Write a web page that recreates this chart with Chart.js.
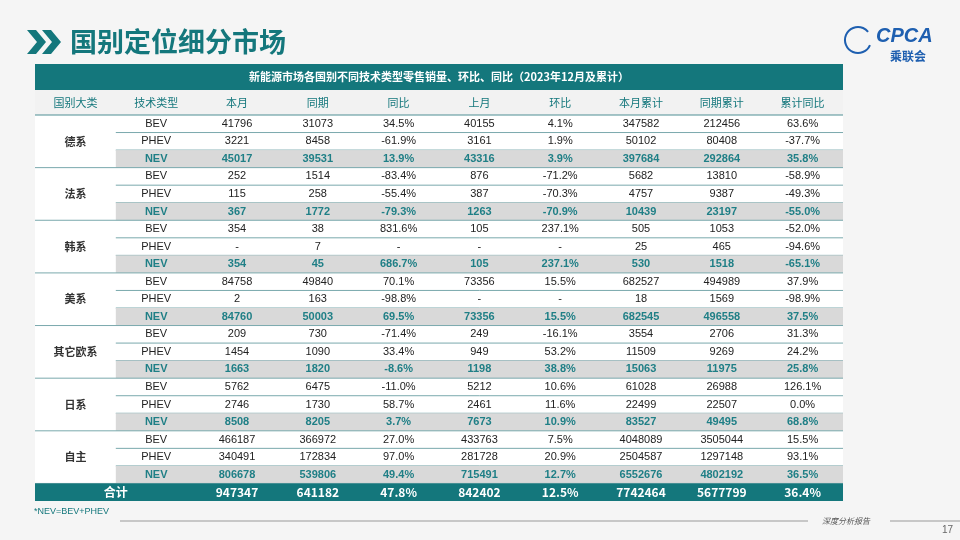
<!DOCTYPE html>
<html><head><meta charset="utf-8">
<script src="https://cdn.jsdelivr.net/npm/chart.js@4/dist/chart.umd.min.js"></script>
<style>html,body{margin:0;background:#f5f5f5}canvas{display:block}</style>
</head><body>
<div style="width:960px;height:540px"><canvas id="c"></canvas></div>
<script>
const headers = ['国别大类', '技术类型', '本月', '同期', '同比', '上月', '环比', '本月累计', '同期累计', '累计同比'];
const groups = ['德系', '法系', '韩系', '美系', '其它欧系', '日系', '自主'];
const techTypes = ['BEV', 'PHEV', 'NEV'];
const thisMonth = ['41796','3221','45017','252','115','367','354','-','354','84758','2','84760','209','1454','1663','5762','2746','8508','466187','340491','806678'];
const sameMonth = ['31073','8458','39531','1514','258','1772','38','7','45','49840','163','50003','730','1090','1820','6475','1730','8205','366972','172834','539806'];
const yoy = ['34.5%','-61.9%','13.9%','-83.4%','-55.4%','-79.3%','831.6%','-','686.7%','70.1%','-98.8%','69.5%','-71.4%','33.4%','-8.6%','-11.0%','58.7%','3.7%','27.0%','97.0%','49.4%'];
const lastMonth = ['40155','3161','43316','876','387','1263','105','-','105','73356','-','73356','249','949','1198','5212','2461','7673','433763','281728','715491'];
const mom = ['4.1%','1.9%','3.9%','-71.2%','-70.3%','-70.9%','237.1%','-','237.1%','15.5%','-','15.5%','-16.1%','53.2%','38.8%','10.6%','11.6%','10.9%','7.5%','20.9%','12.7%'];
const ytd = ['347582','50102','397684','5682','4757','10439','505','25','530','682527','18','682545','3554','11509','15063','61028','22499','83527','4048089','2504587','6552676'];
const ytdLast = ['212456','80408','292864','13810','9387','23197','1053','465','1518','494989','1569','496558','2706','9269','11975','26988','22507','49495','3505044','1297148','4802192'];
const ytdYoy = ['63.6%','-37.7%','35.8%','-58.9%','-49.3%','-55.0%','-52.0%','-94.6%','-65.1%','37.9%','-98.9%','37.5%','31.3%','24.2%','25.8%','126.1%','0.0%','68.8%','15.5%','93.1%','36.5%'];
const total = ['合计', '', '947347', '641182', '47.8%', '842402', '12.5%', '7742464', '5677799', '36.4%'];

const TEAL = '#14777c';
const rowLabels = [];
groups.forEach(g => techTypes.forEach(t => rowLabels.push(g + '-' + t)));
rowLabels.push('合计');
const valueCols = [thisMonth, sameMonth, yoy, lastMonth, mom, ytd, ytdLast, ytdYoy];

const tablePlugin = {
  id: 'table',
  beforeDraw(chart) {
    const {ctx, chartArea: a, scales: {x, y}} = chart;
    const rowH = y.getPixelForValue(1) - y.getPixelForValue(0);
    const colW = x.getPixelForValue(1) - x.getPixelForValue(0);
    ctx.save();
    // page title
    ctx.fillStyle = TEAL;
    [27, 42].forEach(px => {
      ctx.beginPath(); ctx.moveTo(px, 30); ctx.lineTo(px + 9, 30); ctx.lineTo(px + 19, 42);
      ctx.lineTo(px + 9, 54); ctx.lineTo(px, 54); ctx.lineTo(px + 10, 42); ctx.closePath(); ctx.fill();
    });
    ctx.font = 'bold 27px "Noto Sans CJK SC"'; ctx.textBaseline = 'middle'; ctx.textAlign = 'left';
    ctx.fillText('国别定位细分市场', 70, 42);
    // logo
    ctx.fillStyle = '#1e5fb0'; ctx.font = 'italic bold 20px "Liberation Sans"';
    ctx.fillText('CPCA', 876, 36);
    ctx.font = 'bold 12px "Noto Sans CJK SC"'; ctx.fillText('乘联会', 890, 56);
    ctx.strokeStyle = '#1e5fb0'; ctx.lineWidth = 2;
    ctx.beginPath(); ctx.arc(858, 40, 13, 0.4, 5.6); ctx.stroke();
    // table body
    const top = a.top - 51;
    ctx.fillStyle = '#ffffff'; ctx.fillRect(a.left, top, a.width, a.bottom - top);
    ctx.fillStyle = TEAL; ctx.fillRect(a.left, top, a.width, 26);
    ctx.fillStyle = '#ffffff'; ctx.textAlign = 'center'; ctx.font = 'bold 11px "Noto Sans CJK SC"';
    ctx.fillText('新能源市场各国别不同技术类型零售销量、环比、同比（2023年12月及累计）', (a.left + a.right) / 2, top + 13);
    ctx.fillStyle = '#f2f2f2'; ctx.fillRect(a.left, top + 26, a.width, 25);
    ctx.fillStyle = TEAL; ctx.font = '11px "Noto Sans CJK SC"';
    headers.forEach((h, i) => ctx.fillText(h, x.getPixelForValue(i), top + 39));
    ctx.strokeStyle = '#4f8f94'; ctx.lineWidth = 1;
    ctx.beginPath(); ctx.moveTo(a.left, a.top); ctx.lineTo(a.right, a.top); ctx.stroke();
    const secondLeft = x.getPixelForValue(1) - colW / 2;
    rowLabels.forEach((lab, r) => {
      const cy = y.getPixelForValue(r);
      const y0 = cy - rowH / 2;
      if (r === rowLabels.length - 1) {
        ctx.fillStyle = TEAL; ctx.fillRect(a.left, y0, a.width, rowH);
        ctx.fillStyle = '#ffffff'; ctx.font = 'bold 12px "Liberation Sans Narrow", "Noto Sans CJK SC"';
        total.forEach((t, i) => {
          if (!t) return;
          const cx = i === 0 ? (x.getPixelForValue(0) + x.getPixelForValue(1)) / 2 : x.getPixelForValue(i);
          ctx.fillText(t, cx, cy);
        });
        return;
      }
      const t = r % 3;
      const isNev = t === 2;
      if (isNev) { ctx.fillStyle = '#d9d9d9'; ctx.fillRect(secondLeft, y0, a.right - secondLeft, rowH); }
      ctx.fillStyle = isNev ? '#1f7f86' : '#222';
      ctx.font = (isNev ? 'bold ' : '') + '11px "Liberation Sans"';
      ctx.fillText(techTypes[t], x.getPixelForValue(1), cy);
      valueCols.forEach((col, i) => ctx.fillText(col[r], x.getPixelForValue(i + 2), cy));
      if (t === 1) {
        ctx.fillStyle = '#333'; ctx.font = 'bold 11px "Noto Sans CJK SC"';
        ctx.fillText(groups[(r - 1) / 3], x.getPixelForValue(0), cy);
      }
      ctx.strokeStyle = '#7aa9ad';
      ctx.beginPath();
      ctx.moveTo(t === 2 ? a.left : secondLeft, y0 + rowH); ctx.lineTo(a.right, y0 + rowH); ctx.stroke();
    });
    // footer
    ctx.textAlign = 'left'; ctx.fillStyle = TEAL; ctx.font = '9px "Liberation Sans"';
    ctx.fillText('*NEV=BEV+PHEV', 34, 512);
    ctx.strokeStyle = '#999'; ctx.beginPath(); ctx.moveTo(120, 521); ctx.lineTo(808, 521);
    ctx.moveTo(890, 521); ctx.lineTo(960, 521); ctx.stroke();
    ctx.fillStyle = '#555'; ctx.font = 'italic 8px "Noto Sans CJK SC"'; ctx.fillText('深度分析报告', 822, 521);
    ctx.fillStyle = '#666'; ctx.font = '10px "Liberation Sans"'; ctx.fillText('17', 942, 530);
    ctx.restore();
  }
};

new Chart(document.getElementById('c'), {
  type: 'scatter',
  data: { datasets: [{ data: [], showLine: false }] },
  options: {
    responsive: true, maintainAspectRatio: false, animation: false,
    layout: { padding: { left: 35, right: 117, top: 115, bottom: 39 } },
    plugins: { legend: { display: false }, tooltip: { enabled: false } },
    scales: {
      x: { type: 'category', labels: headers, offset: true, display: false },
      y: { type: 'category', labels: rowLabels, offset: true, display: false }
    }
  },
  plugins: [tablePlugin]
});
</script>
</body></html>
